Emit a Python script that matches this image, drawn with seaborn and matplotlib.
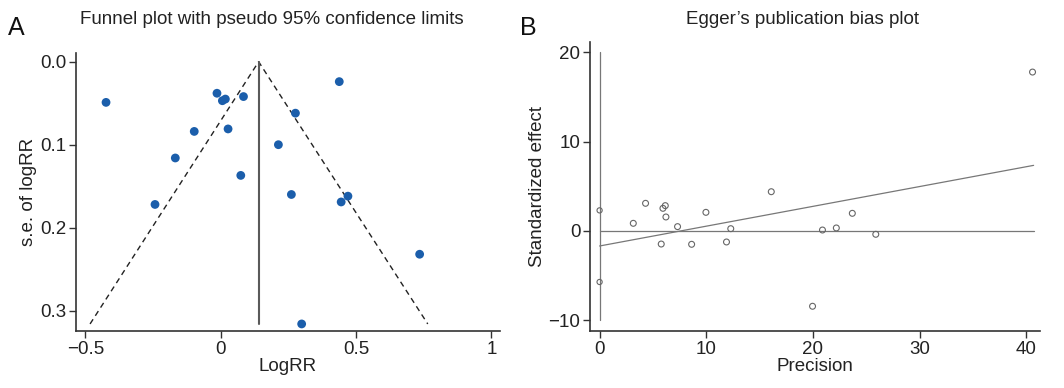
import matplotlib
matplotlib.use("Agg")
import matplotlib.pyplot as plt
import seaborn as sns
import pandas as pd

# ---- Panel A: funnel plot data ----
log_rr = [-0.424, -0.014, 0.006, 0.017, 0.084, -0.098, 0.027, -0.168, -0.243,
          0.074, 0.438, 0.276, 0.213, 0.261, 0.470, 0.445, 0.735, 0.299]
se_log_rr = [0.049, 0.038, 0.047, 0.045, 0.042, 0.084, 0.081, 0.116, 0.172,
             0.137, 0.024, 0.062, 0.100, 0.160, 0.162, 0.169, 0.232, 0.316]
funnel_x = [-0.483, 0.140, 0.765]
funnel_se = [0.316, 0.0, 0.316]
pooled = 0.140
pooled_se_max = 0.316
a_xticks = [-0.5, 0, 0.5, 1]
a_xticklabels = ["\u22120.5", "0", "0.5", "1"]
a_yticks = [0.0, 0.1, 0.2, 0.3]
a_yticklabels = ["0.0", "0.1", "0.2", "0.3"]

# ---- Panel B: Egger plot data ----
precision = [3.16, 4.31, 5.78, 5.94, 6.16, 6.22, 7.31, 8.63, 9.97, 11.9,
             12.3, 16.1, 19.97, 20.9, 22.2, 23.7, 25.9, 40.6]
std_effect = [0.86, 3.10, -1.46, 2.54, 2.84, 1.57, 0.49, -1.49, 2.09, -1.23,
              0.26, 4.40, -8.43, 0.11, 0.34, 1.98, -0.37, 17.8]
ci_x = [0, 0]
ci_y = [2.31, -5.71]
reg_x = [0, 40.7]
reg_y = [-1.68, 7.35]
zero_x = [0, 40.7]
zero_y = [0, 0]
vline_y = [-10, 20]
b_xticks = [0, 10, 20, 30, 40]
b_yticks = [-10, 0, 10, 20]
b_yticklabels = ["\u221210", "0", "10", "20"]

sns.set_theme(style="ticks")
plt.rcParams['font.family'] = ['Liberation Sans', 'DejaVu Sans']

FS = 13.5
fig = plt.figure(figsize=(10.64, 3.88), dpi=100)
axA = fig.add_axes([76/1064, 1-331/388, (500-76)/1064, (331-53)/388])
axB = fig.add_axes([590/1064, 1-331/388, (1040-590)/1064, (331-41.7)/388])

spine_col = "#333333"
for ax in (axA, axB):
    sns.despine(ax=ax)
    for s in ("left", "bottom"):
        ax.spines[s].set_color(spine_col)
        ax.spines[s].set_linewidth(1.2)
    ax.tick_params(direction="out", length=5, width=1.0, color=spine_col,
                   labelsize=FS, labelcolor="#222222", pad=2)

# Panel A
dfA = pd.DataFrame({"LogRR": log_rr, "se": se_log_rr})
axA.plot(funnel_x, funnel_se, ls=(0, (4, 3)), color="#222222", lw=1.0)
axA.plot([pooled, pooled], [0, pooled_se_max], color="#5a5a5a", lw=1.5)
sns.scatterplot(data=dfA, x="LogRR", y="se", ax=axA, color="#1b5eab",
                s=40, edgecolor="none", zorder=3)
axA.set_xlim(-0.535, 1.032)
axA.set_ylim(0.3245, -0.0105)
axA.set_xticks(a_xticks)
axA.set_xticklabels(a_xticklabels)
axA.set_yticks(a_yticks)
axA.set_yticklabels(a_yticklabels)
axA.set_xlabel("LogRR", fontsize=FS, labelpad=0, color="#222222")
axA.set_ylabel("s.e. of logRR", fontsize=FS, labelpad=2, color="#222222")

# Panel B
dfB = pd.DataFrame({"Precision": precision, "Standardized effect": std_effect})
axB.plot([0, 0], vline_y, color="#777777", lw=0.9)
axB.plot(zero_x, zero_y, color="#777777", lw=0.9)
axB.plot(reg_x, reg_y, color="#777777", lw=0.9)
sns.scatterplot(data=dfB, x="Precision", y="Standardized effect", ax=axB,
                facecolor="none", edgecolor="#666666", linewidth=0.8, s=18,
                zorder=3)
axB.scatter(ci_x, ci_y, facecolor="none", edgecolor="#666666", linewidth=0.8,
            s=14, zorder=3)
axB.set_xlim(-0.9, 41.3)
axB.set_ylim(-11.2, 21.2)
axB.set_xticks(b_xticks)
axB.set_yticks(b_yticks)
axB.set_yticklabels(b_yticklabels)
axB.set_xlabel("Precision", fontsize=FS, labelpad=0, color="#222222")
axB.set_ylabel("Standardized effect", fontsize=FS, labelpad=2, color="#222222")

fig.text(272/1064, 1-20/388, "Funnel plot with pseudo 95% confidence limits",
         ha="center", va="center", fontsize=FS, color="#222222")
fig.text(803/1064, 1-20/388, "Egger\u2019s publication bias plot",
         ha="center", va="center", fontsize=FS, color="#222222")
fig.text(8/1064, 1-28/388, "A", ha="left", va="center", fontsize=18, color="#111111")
fig.text(520/1064, 1-28/388, "B", ha="left", va="center", fontsize=18, color="#111111")

fig.savefig("out.png", dpi=100)
